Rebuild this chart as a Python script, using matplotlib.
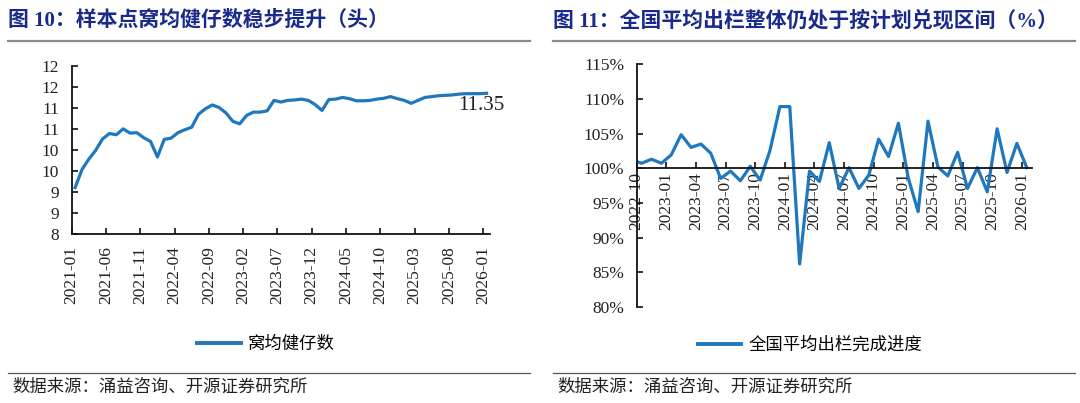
import matplotlib
matplotlib.use("Agg")
import matplotlib.pyplot as plt
from matplotlib.lines import Line2D

# ---------------- data ----------------
left_months = [f"{y}-{m:02d}" for y in range(2021, 2027) for m in range(1, 13)][:61]
left_values = [9.10, 9.53, 9.78, 9.99, 10.26, 10.39, 10.36, 10.50, 10.40, 10.41,
               10.29, 10.20, 9.83, 10.25, 10.28, 10.41, 10.48, 10.54, 10.85, 10.98,
               11.07, 11.01, 10.88, 10.68, 10.62, 10.82, 10.90, 10.90, 10.93, 11.18,
               11.14, 11.18, 11.19, 11.21, 11.18, 11.08, 10.94, 11.20, 11.21, 11.25,
               11.22, 11.17, 11.17, 11.18, 11.21, 11.23, 11.27, 11.22, 11.18, 11.11,
               11.18, 11.25, 11.27, 11.29, 11.30, 11.31, 11.33, 11.34, 11.34, 11.34,
               11.35]
left_yticks = [8, 8.5, 9, 9.5, 10, 10.5, 11, 11.5, 12]
left_yticklabels = ["8", "9", "9", "10", "10", "11", "11", "12", "12"]
left_series = "窝均健仔数"
left_title = "图 10：样本点窝均健仔数稳步提升（头）"

right_months = ["2022-09"] + [f"{y}-{m:02d}" for y in range(2022, 2027) for m in range(1, 13)][9:49]
right_values = [101.2,
                100.73, 101.31, 100.73, 101.94, 104.85, 103.01, 103.50, 102.18, 98.54, 99.6,
                98.2, 100.3, 98.3, 102.6, 108.9, 108.9, 86.2, 99.6, 98.1, 103.7,
                97.1, 100.1, 97.1, 99.0, 104.2, 101.7, 106.5, 98.6, 93.75, 106.8,
                100.2, 98.9, 102.3, 97.1, 100.1, 96.6, 105.7, 99.4, 103.6, 100.1]
right_yticks = [80, 85, 90, 95, 100, 105, 110, 115]
right_series = "全国平均出栏完成进度"
right_title = "图 11：全国平均出栏整体仍处于按计划兑现区间（%）"

source_text = "数据来源：涌益咨询、开源证券研究所"

# ---------------- style ----------------
LINE_C = "#1F78BE"
TITLE_C = "#1A2A8A"
NUM_FONT = ["Liberation Serif", "Noto Sans CJK SC"]
CJK_FONT = ["Noto Sans CJK SC", "DejaVu Sans"]

W, H = 1080, 403
fig = plt.figure(figsize=(W / 100, H / 100), dpi=100)


def fx(px):
    return px / W


def fy(py):
    return 1 - py / H


def style_axes(ax):
    for s in ["top", "right"]:
        ax.spines[s].set_visible(False)
    for s in ["left", "bottom"]:
        ax.spines[s].set_linewidth(1.3)
        ax.spines[s].set_color("#111111")
    ax.tick_params(axis="both", direction="in", length=4.5, width=1.2, colors="#111111",
                   labelsize=12.5)
    ax.tick_params(axis="y", pad=9)
    for lab in ax.get_xticklabels() + ax.get_yticklabels():
        lab.set_family(NUM_FONT)
        lab.set_color("#222222")


# ---------------- left chart ----------------
axL = fig.add_axes([fx(71.7), fy(233.7), fx(490 - 71.7), (233.7 - 66) / H])
xl = [i + 0.5 for i in range(len(left_values))]
axL.plot(xl, left_values, color=LINE_C, lw=2.3, solid_joinstyle="round")
axL.set_xlim(0, len(left_values))
axL.set_ylim(8, 12)
axL.set_yticks(left_yticks)
axL.set_yticklabels(left_yticklabels)
lt = list(range(0, len(left_values), 5))
axL.set_xticks(lt)
axL.set_xticklabels([left_months[i] for i in lt], rotation=90)
style_axes(axL)
axL.tick_params(axis="x", pad=9)
axL.annotate(f"{left_values[-1]:.2f}", xy=(xl[-1], left_values[-1]), xytext=(-4, -9),
             textcoords="offset points", ha="center", va="center", fontsize=15,
             family=NUM_FONT, color="#222222")
axL.legend([Line2D([0], [0], color=LINE_C, lw=2.8)], [left_series], loc="center",
           bbox_to_anchor=(fx(266), fy(344)), bbox_transform=fig.transFigure,
           frameon=False, handlelength=2.5, handletextpad=0.4,
           prop={"family": CJK_FONT, "size": 12.5})

# ---------------- right chart ----------------
axR = fig.add_axes([fx(636.7), fy(307), fx(1031.7 - 636.7), (307 - 64.3) / H])
xr = [i - 0.5 for i in range(len(right_values))]
axR.plot(xr, right_values, color=LINE_C, lw=2.3, solid_joinstyle="round")
axR.set_xlim(0, len(right_values) - 1)
axR.set_ylim(80, 115)
axR.set_yticks(right_yticks)
axR.set_yticklabels([f"{v}%" for v in right_yticks])
axR.spines["bottom"].set_position(("data", 100))
rt = list(range(0, len(right_values) - 1, 3))
axR.set_xticks(rt)
axR.set_xticklabels([right_months[i + 1] for i in rt], rotation=90)
style_axes(axR)
axR.tick_params(axis="x", pad=3)
axR.legend([Line2D([0], [0], color=LINE_C, lw=2.8)], [right_series], loc="center",
           bbox_to_anchor=(fx(810), fy(345)), bbox_transform=fig.transFigure,
           frameon=False, handlelength=2.5, handletextpad=0.4,
           prop={"family": CJK_FONT, "size": 12.5})

# ---------------- titles, rules, sources ----------------
for x0, x1, title in [(8, 530, left_title), (553, 1075, right_title)]:
    fig.text(fx(x0), fy(21), title, ha="left", va="center", fontsize=15,
             fontweight="bold", color=TITLE_C, family=NUM_FONT)
    fig.add_artist(Line2D([fx(x0), fx(x1)], [fy(41), fy(41)], color="#8A8A8A", lw=1.6))
    fig.add_artist(Line2D([fx(x0), fx(x1)], [fy(373), fy(373)], color="#555555", lw=0.9))
    fig.text(fx(x0 + 4), fy(387), source_text, ha="left", va="center", fontsize=12.5,
             color="#222222", family=CJK_FONT)

fig.savefig("out.png", dpi=100, facecolor="white")
